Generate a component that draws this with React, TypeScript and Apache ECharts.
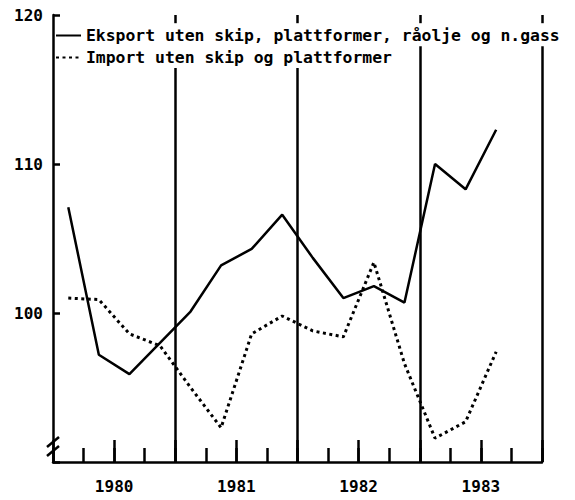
import React, { useEffect, useRef } from "react";
import * as echarts from "echarts";

const years = ["1980", "1981", "1982", "1983"];
const exportName = "Eksport uten skip, plattformer, råolje og n.gass";
const importName = "Import uten skip og plattformer";
// quarterly values 1980Q1 .. 1983Q3
const exportValues = [107.1, 97.2, 95.9, 98.0, 100.1, 103.2, 104.3, 106.6, 103.7, 101.0, 101.8, 100.7, 110.0, 108.3, 112.3];
const importValues = [101.0, 100.9, 98.6, 97.8, 95.0, 92.3, 98.6, 99.8, 98.8, 98.4, 103.4, 96.6, 91.6, 92.7, 97.4];
const yTicks = [90, 100, 110, 120];

const FONT = "DejaVu Sans Mono";
// layout: y-levels (in axis units) where the year lines are interrupted by the legend text
const gapTop = 119.45;
const gapBottomTwoRows = 116.45;
const gapBottomOneRow = 117.9;

export default function App() {
  const ref = useRef<HTMLDivElement>(null);
  useEffect(() => {
    document.body.style.margin = "0";
    const chart = echarts.init(ref.current!, null, { renderer: "svg" });
    const nQ = years.length * 4;
    const yMin = yTicks[0];
    const yMax = yTicks[yTicks.length - 1];
    const toPts = (arr: number[]) => arr.map((v, i) => [i + 0.5, v]);
    const yearBounds = years.map((_, i) => (i + 1) * 4);
    const yearLineSegs: any[] = [];
    yearBounds.forEach((q, i) => {
      const gb = i < 2 ? gapBottomTwoRows : gapBottomOneRow;
      yearLineSegs.push([{ coord: [q, yMin] }, { coord: [q, gb] }]);
      yearLineSegs.push([{ coord: [q, gapTop] }, { coord: [q, yMax] }]);
    });
    const baseX = {
      type: "value",
      min: 0,
      max: nQ,
      position: "bottom",
      axisLine: { show: false },
      axisTick: { show: false },
      axisLabel: { show: false },
      splitLine: { show: false },
    };
    chart.setOption({
      animation: false,
      backgroundColor: "#fff",
      grid: { left: 53, right: 33, top: 15, bottom: 38 },
      legend: {
        left: 55,
        top: 25,
        padding: 0,
        orient: "vertical",
        itemWidth: 25,
        itemHeight: 10,
        itemGap: 1,
        selectedMode: false,
        itemStyle: { opacity: 0 },
        data: [exportName, importName],
        textStyle: {
          fontFamily: FONT,
          fontWeight: "bold",
          fontSize: 16.4,
          color: "#000",
          lineHeight: 21,
        },
      },
      xAxis: [
        {
          ...baseX,
          interval: 1,
          axisLine: { show: true, lineStyle: { color: "#000", width: 2.5 } },
          axisTick: { show: true, inside: true, length: 14, lineStyle: { color: "#000", width: 2.5 } },
        },
        {
          ...baseX,
          interval: 2,
          axisTick: { show: true, inside: true, length: 22, lineStyle: { color: "#000", width: 2.5 } },
          axisLabel: {
            show: true,
            margin: 16,
            fontFamily: FONT,
            fontWeight: "bold",
            fontSize: 16,
            color: "#000",
            formatter: (v: number) => (v % 4 === 2 ? years[(v - 2) / 4] : ""),
          },
        },
      ],
      yAxis: {
        type: "value",
        min: yMin,
        max: yMax,
        interval: 10,
        axisLine: { show: true, lineStyle: { color: "#000", width: 2.5 } },
        axisTick: { show: true, inside: true, length: 7, lineStyle: { color: "#000", width: 2.5 } },
        axisLabel: {
          margin: 10,
          fontFamily: FONT,
          fontWeight: "bold",
          fontSize: 16,
          color: "#000",
          formatter: (v: number) => (v === yMin ? "" : String(v)),
        },
        splitLine: { show: false },
      },
      graphic: [
        { type: "line", z: 10, shape: { x1: 47, y1: 447, x2: 59, y2: 437 }, style: { stroke: "#000", lineWidth: 2.5 } },
        { type: "line", z: 10, shape: { x1: 47, y1: 456, x2: 59, y2: 446 }, style: { stroke: "#000", lineWidth: 2.5 } },
      ],
      series: [
        {
          name: exportName,
          type: "line",
          xAxisIndex: 0,
          data: toPts(exportValues),
          symbol: "none",
          lineStyle: { color: "#000", width: 2.5 },
          itemStyle: { color: "#000" },
          markLine: {
            silent: true,
            symbol: "none",
            label: { show: false },
            lineStyle: { color: "#000", width: 2.5, type: "solid" },
            data: yearLineSegs,
          },
        },
        {
          name: importName,
          type: "line",
          xAxisIndex: 0,
          data: toPts(importValues),
          symbol: "none",
          lineStyle: { color: "#000", width: 3, type: [3, 3.5] },
          itemStyle: { color: "#000" },
        },
      ],
    });
    return () => chart.dispose();
  }, []);
  return <div ref={ref} style={{ width: 575, height: 500 }} />;
}
